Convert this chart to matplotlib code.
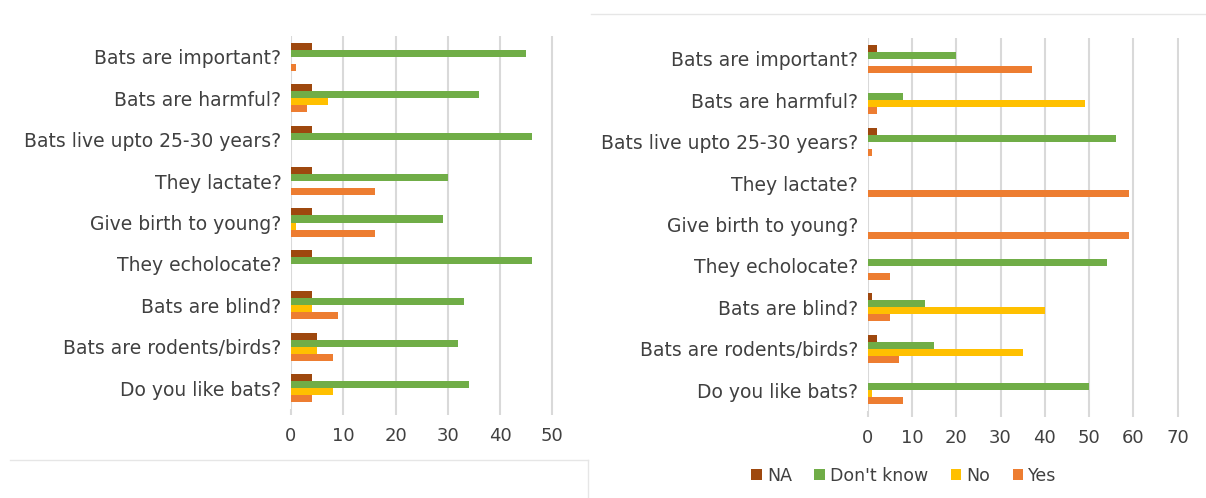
import matplotlib
matplotlib.use("Agg")
import matplotlib.pyplot as plt
from matplotlib.patches import Patch
from matplotlib.lines import Line2D
import numpy as np

categories = ["Bats are important?", "Bats are harmful?", "Bats live upto 25-30 years?",
              "They lactate?", "Give birth to young?", "They echolocate?",
              "Bats are blind?", "Bats are rodents/birds?", "Do you like bats?"]
series_names = ["NA", "Don't know", "No", "Yes"]

left_na = [4, 4, 4, 4, 4, 4, 4, 5, 4]
left_dk = [45, 36, 46, 30, 29, 46, 33, 32, 34]
left_no = [0, 7, 0, 0, 1, 0, 4, 5, 8]
left_yes = [1, 3, 0, 16, 16, 0, 9, 8, 4]

right_na = [2, 0, 2, 0, 0, 0, 1, 2, 0]
right_dk = [20, 8, 56, 0, 0, 54, 13, 15, 50]
right_no = [0, 49, 0, 0, 0, 0, 40, 35, 1]
right_yes = [37, 2, 1, 59, 59, 5, 5, 7, 8]

left_ticks = [0, 10, 20, 30, 40, 50]
right_ticks = [0, 10, 20, 30, 40, 50, 60, 70]

colors = ["#9E480E", "#70AD47", "#FFC000", "#ED7D31"]
text_color = "#404040"
grid_color = "#d9d9d9"
plt.rcParams['font.family'] = ['DejaVu Sans']

W, H = 1206, 498
fig = plt.figure(figsize=(W / 100, H / 100), dpi=100)


def panel(rect_px, data, ticks):
    x0, y0, x1, y1 = rect_px
    ax = fig.add_axes([x0 / W, 1 - y1 / H, (x1 - x0) / W, (y1 - y0) / H])
    y = np.arange(len(categories))
    h = 0.17
    offsets = [-1.5 * h, -0.5 * h, 0.5 * h, 1.5 * h]
    for vals, off, c in zip(data, offsets, colors):
        ax.barh(y + off, vals, height=h, color=c, zorder=3)
    ax.set_ylim(len(categories) - 0.5, -0.5)
    ax.set_xlim(ticks[0], ticks[-1] + 0.3)
    ax.set_yticks(y)
    ax.set_yticklabels(categories, fontsize=13.5, color=text_color)
    ax.set_xticks(ticks)
    ax.set_xticklabels([str(t) for t in ticks], fontsize=13, color=text_color)
    ax.tick_params(axis='y', length=0, pad=7)
    ax.tick_params(axis='x', length=4, color=grid_color, width=1.5, pad=9)
    for s in ax.spines.values():
        s.set_visible(False)
    ax.grid(axis='x', color=grid_color, linewidth=1.5, zorder=0)
    ax.set_axisbelow(True)
    return ax


panel((291, 36, 554, 409), [left_na, left_dk, left_no, left_yes], left_ticks)
panel((867.7, 38, 1179, 411), [right_na, right_dk, right_no, right_yes], right_ticks)

# chart borders
fig.add_artist(Line2D([10 / W, 588 / W], [1 - 460 / H, 1 - 460 / H], color="#e6e6e6", linewidth=1))
fig.add_artist(Line2D([588 / W, 588 / W], [1 - 460 / H, 0], color="#e6e6e6", linewidth=1))
fig.add_artist(Line2D([591 / W, 1], [1 - 14 / H, 1 - 14 / H], color="#e6e6e6", linewidth=1))

handles = [Patch(facecolor=c, label=n) for c, n in zip(colors, series_names)]
leg = fig.legend(handles=handles, loc='center', bbox_to_anchor=(904 / W, 1 - 476 / H), ncol=4,
                 frameon=False, fontsize=12.5, handlelength=0.6, handleheight=0.6,
                 handletextpad=0.3, columnspacing=1.3)
for t in leg.get_texts():
    t.set_color(text_color)

fig.savefig("out.png", dpi=100)
